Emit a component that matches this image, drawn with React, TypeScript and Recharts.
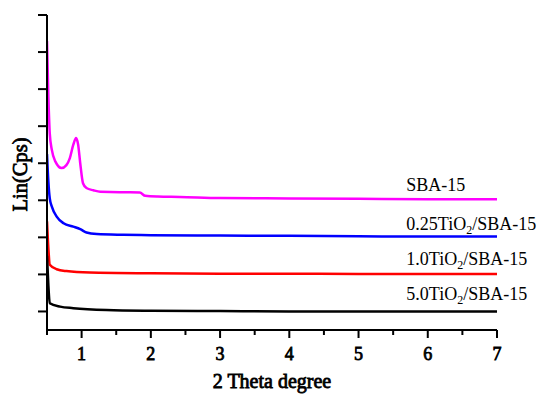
import React from 'react'
import { LineChart, Line, XAxis, YAxis, ReferenceDot } from 'recharts'

const sbaX = [0.5, 0.52, 0.54, 0.57, 0.62, 0.71, 0.78, 0.83, 0.88, 0.92, 0.95, 0.98, 1.02, 1.07, 1.17, 1.27, 1.55, 1.7, 1.84, 1.92, 2.1, 2.42, 3, 4, 5, 6, 7]
const sbaY = [7.8, 6.3, 5.3, 4.86, 4.55, 4.37, 4.45, 4.64, 5.0, 5.18, 5.0, 4.5, 3.96, 3.83, 3.77, 3.73, 3.72, 3.72, 3.71, 3.62, 3.6, 3.59, 3.56, 3.55, 3.54, 3.53, 3.53]

const ti025X = [0.5, 0.52, 0.54, 0.57, 0.64, 0.74, 0.88, 0.98, 1.07, 1.22, 1.6, 2, 3, 4, 5, 6, 7]
const ti025Y = [4.75, 4.0, 3.55, 3.33, 3.06, 2.88, 2.79, 2.72, 2.63, 2.59, 2.57, 2.56, 2.55, 2.54, 2.53, 2.52, 2.52]

const ti10X = [0.5, 0.52, 0.54, 0.64, 0.78, 1.12, 2, 3, 4, 5, 6, 7]
const ti10Y = [2.93, 2.2, 1.76, 1.64, 1.59, 1.55, 1.53, 1.52, 1.52, 1.51, 1.51, 1.51]

const ti50X = [0.5, 0.52, 0.54, 0.69, 0.88, 1.36, 2, 3, 4, 5, 6, 7]
const ti50Y = [2.0, 1.2, 0.72, 0.63, 0.59, 0.54, 0.52, 0.51, 0.5, 0.5, 0.5, 0.5]

const xTicks = [0.5, 1, 1.5, 2, 2.5, 3, 3.5, 4, 4.5, 5, 5.5, 6, 6.5, 7]
const yTicks = [0, 0.5, 1, 1.5, 2, 2.5, 3, 3.5, 4, 4.5, 5, 5.5, 6, 6.5, 7, 7.5, 8, 8.5]

// curve labels: [prefix, subscript, suffix], anchored by x and baseline value
const labelX = 5.69
const labelTexts: [string, string, string][] = [
  ['SBA-15', '', ''],
  ['0.25TiO', '2', '/SBA-15'],
  ['1.0TiO', '2', '/SBA-15'],
  ['5.0TiO', '2', '/SBA-15'],
]
const labelY = [3.74, 2.7, 1.76, 0.81]

const zip = (xs: number[], ys: number[]) => xs.map((x, i) => ({ x, y: ys[i] }))

const series = [
  { name: 'SBA-15', color: '#FF00FF', data: zip(sbaX, sbaY) },
  { name: '0.25TiO2/SBA-15', color: '#0000FF', data: zip(ti025X, ti025Y) },
  { name: '1.0TiO2/SBA-15', color: '#FF0000', data: zip(ti10X, ti10Y) },
  { name: '5.0TiO2/SBA-15', color: '#000000', data: zip(ti50X, ti50Y) },
]

const font = '"Liberation Serif", "Times New Roman", serif'
// bold serif face is not available, so thicken the regular one
const boldProps = { fontFamily: font, fill: '#000', stroke: '#000', strokeWidth: 0.8 }

const XTick = (p: any) => {
  const v = p.payload.value
  const major = Number.isInteger(v)
  return (
    <g>
      <line x1={p.x} x2={p.x} y1={p.y} y2={p.y + (major ? 8 : 5)} stroke="#000" strokeWidth={2} />
      {major && (
        <text x={p.x} y={p.y + 30} textAnchor="middle" fontSize={18} {...boldProps}>{v}</text>
      )}
    </g>
  )
}

const YTick = (p: any) => {
  const v = p.payload.value
  const major = Math.abs((v - 0.5) % 1) < 1e-6
  return <line x1={p.x - (major ? 9 : 6)} x2={p.x} y1={p.y} y2={p.y} stroke="#000" strokeWidth={2} />
}

const CurveLabel = (parts: [string, string, string]) => (props: any) => {
  const { x, y } = props.viewBox
  return (
    <text x={x} y={y} fontFamily={font} fontSize={18} fill="#000">
      {parts[0]}
      {parts[1] && <tspan fontSize={12} dy={4}>{parts[1]}</tspan>}
      {parts[2] && <tspan dy={-4}>{parts[2]}</tspan>}
    </text>
  )
}

export default function App() {
  return (
    <div style={{ position: 'absolute', left: 0, top: 0, width: 542, height: 394, background: '#fff' }}>
      <LineChart width={542} height={394} margin={{ top: 15, right: 45, bottom: 0, left: 0 }}>
        <XAxis
          type="number"
          dataKey="x"
          domain={[0.5, 7]}
          ticks={xTicks}
          allowDataOverflow
          height={64}
          tickSize={0}
          tickMargin={0}
          tickLine={false}
          tick={XTick}
          axisLine={{ stroke: '#000', strokeWidth: 2 }}
          label={{
            content: (p: any) => (
              <text x={p.viewBox.x + p.viewBox.width / 2} y={p.viewBox.y + 58} textAnchor="middle" fontSize={20} {...boldProps}>2 Theta degree</text>
            ),
          }}
        />
        <YAxis
          type="number"
          dataKey="y"
          domain={[0, 8.5]}
          ticks={yTicks}
          width={47}
          tickSize={0}
          tickMargin={0}
          tickLine={false}
          tick={YTick}
          axisLine={{ stroke: '#000', strokeWidth: 2 }}
          label={{
            content: (p: any) => {
              const cy = p.viewBox.y + p.viewBox.height / 2 + 2
              return (
                <text transform={`translate(20, ${cy}) rotate(-90)`} textAnchor="middle" dominantBaseline="central" fontSize={20.5} {...boldProps}>Lin(Cps)</text>
              )
            },
          }}
        />
        {series.map(s => (
          <Line key={s.name} data={s.data} dataKey="y" type="monotone" stroke={s.color} strokeWidth={2.5} dot={false} isAnimationActive={false} />
        ))}
        {labelTexts.map((t, i) => (
          <ReferenceDot key={i} x={labelX} y={labelY[i]} r={0} fill="none" stroke="none" label={{ content: CurveLabel(t) }} />
        ))}
      </LineChart>
    </div>
  )
}
